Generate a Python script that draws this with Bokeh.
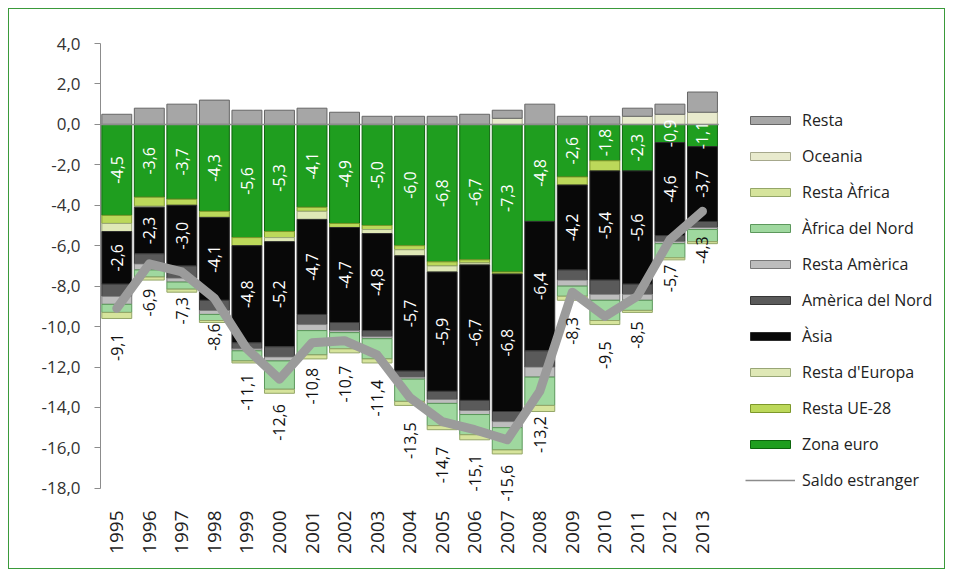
from math import pi
from bokeh.plotting import figure
from bokeh.models import ColumnDataSource, FixedTicker, Legend, LegendItem
from bokeh.core.properties import value
from bokeh.embed import file_html
from bokeh.resources import INLINE

years = ["1995", "1996", "1997", "1998", "1999", "2000", "2001", "2002", "2003", "2004",
         "2005", "2006", "2007", "2008", "2009", "2010", "2011", "2012", "2013"]

zona_euro = [-4.5, -3.6, -3.7, -4.3, -5.6, -5.3, -4.1, -4.9, -5.0, -6.0, -6.8, -6.7, -7.3, -4.8, -2.6, -1.8, -2.3, -0.9, -1.1]
resta_ue28 = [-0.4, -0.45, -0.3, -0.3, -0.4, -0.3, -0.2, -0.2, -0.2, -0.2, -0.2, -0.15, -0.1, 0.0, -0.4, -0.5, 0.0, 0.0, 0.0]
resta_europa = [-0.4, -0.05, 0.0, 0.0, 0.0, -0.2, -0.4, 0.0, -0.2, -0.3, -0.3, -0.1, 0.0, 0.0, 0.0, 0.0, 0.0, 0.0, 0.0]
asia = [-2.6, -2.3, -3.0, -4.1, -4.8, -5.2, -4.7, -4.7, -4.8, -5.7, -5.9, -6.7, -6.8, -6.4, -4.2, -5.4, -5.6, -4.6, -3.7]
america_nord = [-0.6, -0.5, -0.6, -0.5, -0.3, -0.5, -0.5, -0.4, -0.3, -0.3, -0.4, -0.5, -0.5, -0.8, -0.5, -0.7, -0.5, -0.3, -0.3]
resta_america = [-0.4, -0.3, -0.2, -0.2, -0.1, -0.2, -0.3, -0.1, -0.1, -0.1, -0.2, -0.2, -0.3, -0.5, -0.3, -0.3, -0.3, -0.1, -0.1]
africa_nord = [-0.4, -0.35, -0.35, -0.3, -0.5, -1.4, -1.2, -0.8, -1.0, -1.1, -1.1, -1.0, -1.1, -1.4, -0.5, -1.0, -0.5, -0.7, -0.6]
resta_africa = [-0.3, -0.15, -0.15, -0.1, -0.1, -0.2, -0.2, -0.2, -0.2, -0.2, -0.2, -0.25, -0.2, -0.3, -0.2, -0.2, -0.1, -0.1, -0.1]
oceania = [0.0, 0.0, 0.0, 0.0, 0.0, 0.0, 0.0, 0.0, 0.0, 0.0, 0.0, 0.0, 0.3, 0.0, 0.0, 0.0, 0.4, 0.5, 0.6]
resta = [0.5, 0.8, 1.0, 1.2, 0.7, 0.7, 0.8, 0.6, 0.4, 0.4, 0.4, 0.5, 0.4, 1.0, 0.4, 0.4, 0.4, 0.5, 1.0]
saldo = [-9.1, -6.9, -7.3, -8.6, -11.1, -12.6, -10.8, -10.7, -11.4, -13.5, -14.7, -15.1, -15.6, -13.2, -8.3, -9.5, -8.5, -5.7, -4.3]

y_ticks = [4, 2, 0, -2, -4, -6, -8, -10, -12, -14, -16, -18]

series = [
    ("Zona euro", zona_euro, "#1f9e1f", "#0d650d"),
    ("Resta UE-28", resta_ue28, "#bcd85a", "#7d982a"),
    ("Resta d'Europa", resta_europa, "#dfe8b6", "#98a676"),
    ("Àsia", asia, "#080808", "#2e2e2e"),
    ("Amèrica del Nord", america_nord, "#5a5a5a", "#363636"),
    ("Resta Amèrica", resta_america, "#bdbdbd", "#787878"),
    ("Àfrica del Nord", africa_nord, "#9fd89f", "#5c985c"),
    ("Resta Àfrica", resta_africa, "#d6e49c", "#94a668"),
    ("Oceania", oceania, "#e8eacd", "#a6a88c"),
    ("Resta", resta, "#a6a6a6", "#666666"),
]

FONT = "Open Sans"
xs = list(range(len(years)))
n = len(years)

# the frame also holds the legend area to the right of the bars
p = figure(width=937, height=561, x_range=(-0.5, 25.5), y_range=(-18.8, 4),
           output_backend="svg", toolbar_location=None,
           min_border_left=91, min_border_right=0, min_border_top=34, min_border_bottom=66)
p.styles = {"margin": "8px", "border": "1px solid #3a9a3a"}
p.outline_line_color = None
p.xgrid.visible = False
p.ygrid.visible = False
p.background_fill_color = "white"
p.border_fill_color = "white"

pos_base = [0.0] * n
neg_base = [0.0] * n
renderers = {}
centers = {}
for name, vals, fill, line in series:
    bottoms, tops = [], []
    for i, v in enumerate(vals):
        if v >= 0:
            bottoms.append(pos_base[i]); tops.append(pos_base[i] + v); pos_base[i] += v
        else:
            tops.append(neg_base[i]); bottoms.append(neg_base[i] + v); neg_base[i] += v
    centers[name] = [(b + t) / 2 for b, t in zip(bottoms, tops)]
    src = ColumnDataSource(dict(x=xs, top=tops, bottom=bottoms))
    r = p.vbar(x="x", top="top", bottom="bottom", width=0.92, source=src,
               fill_color=fill, line_color=line, line_width=1)
    renderers[name] = r

# horizontal category axis line at zero, spanning the categories only
p.segment(x0=[-0.5], y0=[0], x1=[n - 0.5], y1=[0], line_color="#8c8c8c", line_width=1.5)

line_r = p.line(xs, saldo, line_width=9, line_color="#9b9b9b", line_join="round", line_cap="round")

def fmt(v):
    return f"{v:.1f}".replace(".", ",")

for name in ("Zona euro", "Àsia"):
    vals = zona_euro if name == "Zona euro" else asia
    src = ColumnDataSource(dict(x=xs, y=centers[name], t=[fmt(v) for v in vals]))
    p.text(x="x", y="y", text="t", source=src, angle=pi / 2, text_align="center",
           text_baseline="middle", text_color="white", text_font=value(FONT),
           text_font_size="16px")

src_s = ColumnDataSource(dict(x=xs, y=saldo, t=[fmt(v) for v in saldo]))
p.text(x="x", y="y", text="t", source=src_s, angle=pi / 2, text_align="right",
       text_baseline="middle", text_color="#111111", text_font=value(FONT),
       text_font_size="16px", y_offset=25)

# axes
p.yaxis.ticker = FixedTicker(ticks=y_ticks)
p.yaxis.bounds = (-18, 4)
p.yaxis.major_label_overrides = {t: fmt(float(t)) for t in y_ticks}
p.yaxis.axis_line_color = "#8c8c8c"
p.yaxis.major_tick_line_color = "#8c8c8c"
p.yaxis.major_tick_in = 0
p.yaxis.major_tick_out = 6
p.yaxis.minor_tick_line_color = None
p.yaxis.major_label_text_font = FONT
p.yaxis.major_label_text_font_size = "17px"
p.yaxis.major_label_text_color = "#333333"
p.yaxis.major_label_standoff = 14

p.xaxis.ticker = FixedTicker(ticks=xs)
p.xaxis.major_label_overrides = {i: y for i, y in zip(xs, years)}
p.xaxis.major_label_orientation = pi / 2
p.xaxis.axis_line_color = None
p.xaxis.major_tick_line_color = None
p.xaxis.minor_tick_line_color = None
p.xaxis.major_label_text_font = FONT
p.xaxis.major_label_text_font_size = "19px"
p.xaxis.major_label_text_color = "#222222"
p.xaxis.major_label_standoff = 0

nan = float("nan")
legend_line = p.line([0, 1], [nan, nan], line_color="#8c8c8c", line_width=1.5)
items = [LegendItem(label=name, renderers=[renderers[name]]) for name, *_ in reversed(series)]
items.append(LegendItem(label="Saldo estranger", renderers=[legend_line]))
legend = Legend(items=items, location=(645, 13), orientation="vertical",
                glyph_width=50, glyph_height=10, label_height=21, spacing=14,
                label_standoff=7, padding=0, margin=0,
                label_text_font=FONT, label_text_font_size="16px",
                label_text_color="#222222", border_line_color=None,
                background_fill_alpha=0)
p.add_layout(legend, "center")

open("out.html", "w").write(file_html(p, INLINE))
